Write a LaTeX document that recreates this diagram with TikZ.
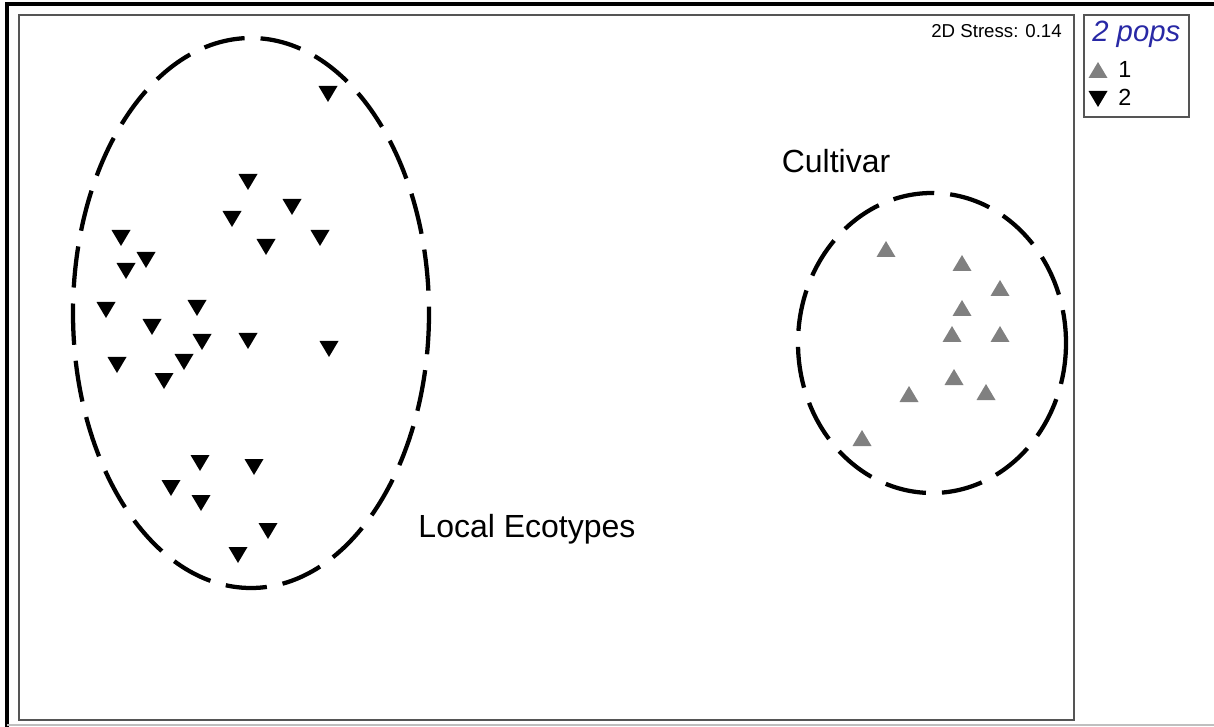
\documentclass[tikz,border=0pt]{standalone}
\usepackage{fontspec}
\setmainfont{Liberation Sans}
\definecolor{framegray}{RGB}{85,85,85}
\definecolor{markgray}{RGB}{128,128,128}
\definecolor{legblue}{RGB}{40,40,165}
\tikzset{
  frameline/.style={draw=framegray,line width=1.5pt},
  hull/.style={draw=black,line width=3.2pt,dash pattern=on 31pt off 12pt},
  lbl/.style={inner sep=0pt,anchor=base,font=\fontsize{24}{28}\selectfont},
}
\newcommand{\dtri}[2]{\fill[black] (#1-9.5,#2-8) -- (#1+9.5,#2-8) -- (#1,#2+8) -- cycle;}
\newcommand{\utri}[2]{\fill[markgray] (#1-9.5,#2+8) -- (#1+9.5,#2+8) -- (#1,#2-8) -- cycle;}
\begin{document}
\begin{tikzpicture}[x=0.75pt,y=-0.75pt]
\useasboundingbox (0,0) rectangle (1214,727);
% outer frame
\draw[black,line width=2.3pt] (7,727) -- (7,4) -- (1214,4);
\draw[black!25,line width=1.2pt] (7,725) -- (1214,725);
% inner plot frame
\node[frameline,inner sep=0pt,minimum width=1055*0.75pt,minimum height=705*0.75pt,anchor=north west] (plot) at (18,14) {};
% legend box
\node[frameline,inner sep=0pt,minimum width=105*0.75pt,minimum height=102*0.75pt,anchor=north west] (legend) at (1083,14) {};
% stress
\node[inner sep=0pt,anchor=base east,font=\fontsize{14}{16}\selectfont] (stress) at (1062,38) {2D Stress: 0.14};
% legend content
\node[inner sep=0pt,anchor=base west,text=legblue,font=\fontsize{22}{24}\selectfont\itshape] (legtitle) at (1092,42) {2 pops};
\utri{1098}{70}
\node[inner sep=0pt,anchor=base west,font=\fontsize{17.5}{20}\selectfont] (leg1) at (1118,78) {1};
\dtri{1098}{99}
\node[inner sep=0pt,anchor=base west,font=\fontsize{17.5}{20}\selectfont] (leg2) at (1118,106) {2};
% hulls
\draw[hull] (251,313) ellipse [x radius=178, y radius=275];
\draw[hull] (932,343) ellipse [x radius=134, y radius=150];
% labels
\node[lbl] (cultivar) at (836,173) {Cultivar};
\node[lbl] (local) at (527,537) {Local Ecotypes};
% group 2 (down triangles)
\foreach \x/\y in {328/94,248/182,292/207,232/219,121/238,320/238,266/247,146/260,126/271,
  106/310,197/308,152/327,202/342,248/341,329/349,184/362,117/365,164/381,
  200/463,254/467,171/488,201/503,268/531,238/555}{\dtri{\x}{\y}}
% group 1 (up triangles)
\foreach \x/\y in {886/249,962/263,1000/288,962/308,952/334,1000/334,954/377,986/392,909/394,862/438}{\utri{\x}{\y}}
\end{tikzpicture}
\end{document}
